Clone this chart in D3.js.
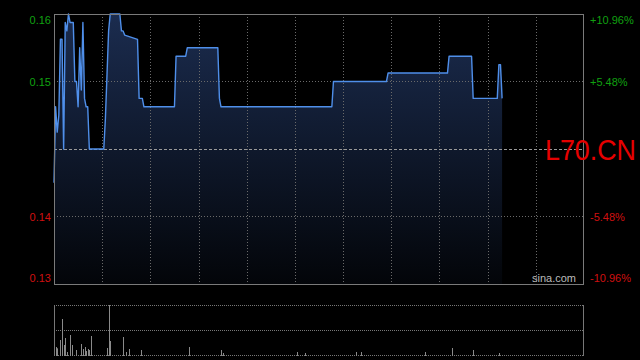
<!DOCTYPE html>
<html>
<head>
<meta charset="utf-8">
<script src="https://cdn.jsdelivr.net/npm/d3@7"></script>
<style>
  html, body { margin: 0; padding: 0; background: #000; }
  svg { display: block; }
</style>
</head>
<body>
<svg id="chart" width="640" height="360"></svg>
<script>
// ---- data (minutes since 09:30, lunch break removed) ----
const prevClose = 0.146;
const priceMinutes = [0,1,2,3,4,5,6,7,8,9,10,12,13,14,15,16,17,18,19,20,21,22,31,32,33,34,35,41,42,43,44,52,53,55,56,75,76,82,83,102,103,104,173,174,207,208,245,246,260,261,276,277,278,279];
const prices       = [0.142,0.151,0.148,0.150,0.159,0.159,0.146,0.161,0.160,0.162,0.161,0.161,0.154,0.154,0.151,0.158,0.153,0.161,0.152,0.151,0.151,0.146,0.146,0.1496,0.1548,0.160,0.162,0.162,0.160,0.160,0.1595,0.159,0.152,0.152,0.151,0.151,0.157,0.157,0.158,0.158,0.152,0.151,0.151,0.154,0.154,0.155,0.155,0.157,0.157,0.152,0.152,0.156,0.156,0.152];
const volMinutes = [1,2,4,5,6,7,8,10,11,14,17,18,19,20,21,22,23,33,34,35,43,45,47,54,84,104,105,151,156,188,191,231,248,261,277];
const volumes    = [160000,134000,300000,720000,200000,340000,60000,400000,200000,100000,220000,120000,160000,80000,120000,100000,380000,140000,1000000,280000,360000,60000,120000,100000,160000,100000,40000,60000,40000,60000,60000,60000,140000,100000,40000];
const priceTicks = [0.162, 0.154, 0.138, 0.130];
const minuteGrid = [30,60,90,120,150,180,210,240,270,300];
const sessionMinutes = 330;
const symbolText = "L70.CN";
const sourceText = "sina.com";

// ---- layout ----
const svg = d3.select("#chart");
const L = 54, R = 584, T = 14, B = 284;
const VT = 305, VB = 355;

const x = d3.scaleLinear().domain([0, sessionMinutes]).range([L, R]);
const y = d3.scaleLinear().domain([prevClose - 0.016, prevClose + 0.016]).range([B, T]);
const yv = d3.scaleLinear().domain([0, d3.max(volumes)]).range([VB, VT]);

const pts = priceMinutes.map((m, i) => ({m, p: prices[i]}));

// gradient
const defs = svg.append("defs");
const grad = defs.append("linearGradient").attr("id", "fillGrad")
  .attr("gradientUnits", "userSpaceOnUse").attr("x1", 0).attr("x2", 0).attr("y1", T).attr("y2", B);
grad.append("stop").attr("offset", "0").attr("stop-color", "#1b2c4f");
grad.append("stop").attr("offset", "1").attr("stop-color", "#030509");

// area + line
svg.append("path").datum(pts)
  .attr("d", d3.area().x(d => x(d.m)).y0(B).y1(d => y(d.p)))
  .attr("fill", "url(#fillGrad)");

// grid
const gridColor = "#6a6a6a";
svg.append("g").selectAll("line").data(minuteGrid).join("line")
  .attr("x1", d => Math.round(x(d)) + 0.5).attr("x2", d => Math.round(x(d)) + 0.5)
  .attr("y1", T).attr("y2", B)
  .attr("stroke", gridColor).attr("stroke-dasharray", "1,2");
svg.append("g").selectAll("line").data([priceTicks[1], priceTicks[2]]).join("line")
  .attr("x1", L).attr("x2", R)
  .attr("y1", d => Math.round(y(d)) + 0.5).attr("y2", d => Math.round(y(d)) + 0.5)
  .attr("stroke", gridColor).attr("stroke-dasharray", "1,2");
svg.append("line")
  .attr("x1", L).attr("x2", R)
  .attr("y1", Math.round(y(prevClose)) + 0.5).attr("y2", Math.round(y(prevClose)) + 0.5)
  .attr("stroke", "#9a9a9a").attr("stroke-dasharray", "3,2");

svg.append("path").datum(pts)
  .attr("d", d3.line().x(d => x(d.m)).y(d => y(d.p)))
  .attr("fill", "none").attr("stroke", "#4f8fea").attr("stroke-width", 1.4)
  .attr("stroke-linejoin", "round");

// frame
svg.append("rect").attr("x", L + 0.5).attr("y", T + 0.5).attr("width", R - L - 1).attr("height", B - T)
  .attr("fill", "none").attr("stroke", "#7a7a7a");

// axes labels
const fmtP = d3.format(".2f");
const fmtPct = v => { const r = (v - prevClose) / prevClose * 100; return (r > 0 ? "+" : "") + r.toFixed(2) + "%"; };
const colorOf = v => v >= prevClose ? "#10a010" : "#d01010";
const shiftOf = (v, i) => i === 0 ? 6 : (i === priceTicks.length - 1 ? -6 : 0);

const leftAxis = svg.append("g").attr("transform", `translate(${L - 3},0)`)
  .call(d3.axisLeft(y).tickValues(priceTicks).tickSize(0).tickPadding(0).tickFormat(fmtP));
leftAxis.select(".domain").remove();
leftAxis.selectAll(".tick text")
  .attr("fill", d => colorOf(d))
  .attr("font-family", "Liberation Sans, Arial, sans-serif").attr("font-size", 11)
  .attr("transform", (d, i) => `translate(0,${shiftOf(d, i)})`);

const rightAxis = svg.append("g").attr("transform", `translate(${R + 6},0)`)
  .call(d3.axisRight(y).tickValues(priceTicks).tickSize(0).tickPadding(0).tickFormat(fmtPct));
rightAxis.select(".domain").remove();
rightAxis.selectAll(".tick text")
  .attr("fill", d => colorOf(d))
  .attr("font-family", "Liberation Sans, Arial, sans-serif").attr("font-size", 11)
  .attr("transform", (d, i) => `translate(0,${shiftOf(d, i)})`);

// watermarks
svg.append("text").attr("x", 545).attr("y", 160).text(symbolText)
  .attr("fill", "#e60000").attr("font-family", "Liberation Sans, Arial, sans-serif")
  .attr("font-size", 30).attr("textLength", 91).attr("lengthAdjust", "spacingAndGlyphs");
svg.append("text").attr("x", 532).attr("y", 282).text(sourceText)
  .attr("fill", "#bbbbbb").attr("font-family", "Liberation Sans, Arial, sans-serif")
  .attr("font-size", 11);

// volume panel
svg.append("g").selectAll("line").data([VT, (VT + VB) / 2, VB]).join("line")
  .attr("x1", L).attr("x2", R).attr("y1", d => d + 0.5).attr("y2", d => d + 0.5)
  .attr("stroke", "#777").attr("stroke-dasharray", "1,1");
svg.append("line").attr("x1", L + 0.5).attr("x2", L + 0.5).attr("y1", VT).attr("y2", VB + 1).attr("stroke", "#777");
svg.append("line").attr("x1", R - 0.5).attr("x2", R - 0.5).attr("y1", VT).attr("y2", VB + 1).attr("stroke", "#777");

svg.append("g").selectAll("rect").data(volMinutes.map((m, i) => ({m, v: volumes[i]}))).join("rect")
  .attr("x", d => Math.round(x(d.m)))
  .attr("width", 1)
  .attr("y", d => yv(d.v))
  .attr("height", d => VB + 1 - yv(d.v))
  .attr("fill", "#8a8a8a");
</script>
</body>
</html>
